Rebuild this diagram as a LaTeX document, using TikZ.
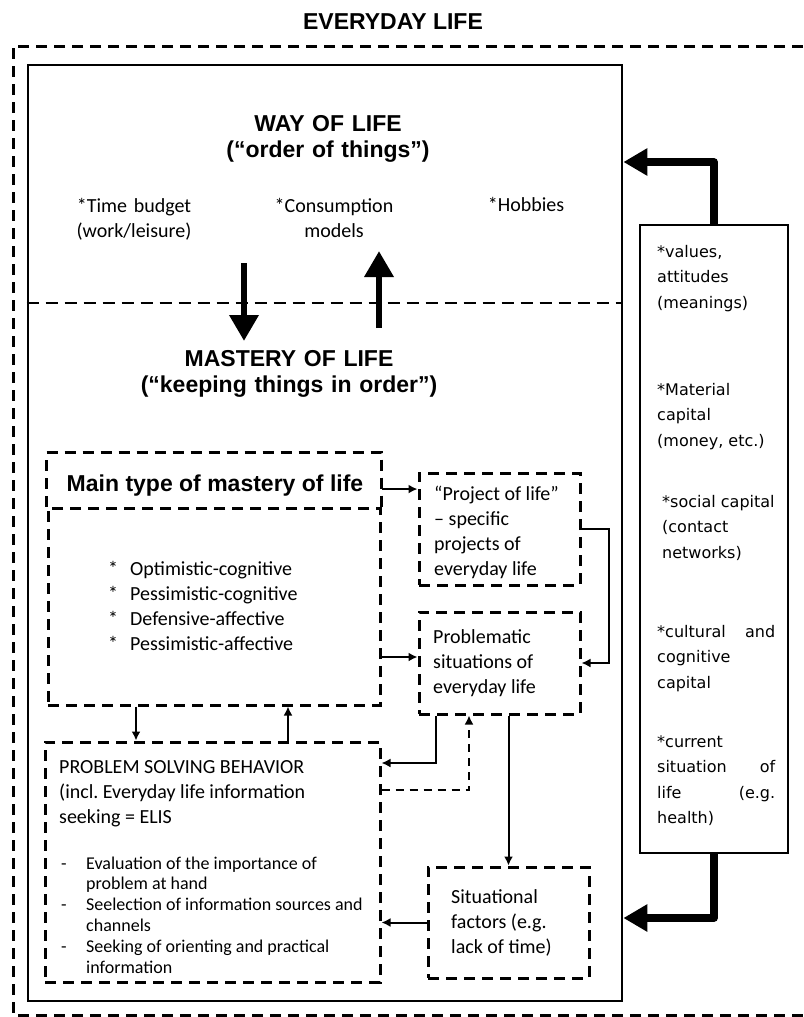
\documentclass[tikz,border=0pt]{standalone}
\usepackage{fontspec}
\setsansfont{Liberation Sans}
\newfontfamily\calib{Carlito}
\newfontfamily\verd{DejaVu Sans}
\usetikzlibrary{arrows.meta}
\frenchspacing

\begin{document}
\begin{tikzpicture}[x=1pt,y=-1pt,>={Latex[length=9pt,width=9pt]},
  solidbox/.style={rectangle,draw,line width=2.8pt,inner sep=0pt},
  dashbox/.style={rectangle,draw,line width=3pt,dash pattern=on 11pt off 7pt,inner sep=0pt},
  head/.style={font=\sffamily\bfseries\fontsize{23}{26.5}\selectfont,inner sep=0pt},
  txt/.style={font=\calib\fontsize{20}{25}\selectfont,inner sep=0pt},
  conn/.style={->,line width=2pt},
  dconn/.style={conn,dash pattern=on 8pt off 6pt},
  bigarrow/.style={-{Triangle[length=24pt,width=26pt]},line width=7.5pt,line join=round},
  fatarrow/.style={-{Triangle[length=26pt,width=28pt]},line width=6.5pt}]

\useasboundingbox (0,0) rectangle (803,1017);

% everyday life
\node[head,anchor=base] (title) at (393,29) {EVERYDAY LIFE};
\draw[line width=3pt,dash pattern=on 11pt off 7pt] (803,46) -| (13,1015) -- (803,1015);

\node[solidbox,minimum width=594pt,minimum height=936pt] (life) at (325,533) {};
\draw[line width=2.6pt,dash pattern=on 12pt off 7pt] (life.west |- 0,303) -- (life.east |- 0,303);

% way of life
\node[head,text width=300pt,align=center,anchor=base] (way) at (328,131) {WAY OF LIFE\\(“order of things”)};
\node[txt,text width=150pt,align=center,anchor=base] (budget) at (134,212) {*Time budget\\(work/leisure)};
\node[txt,text width=150pt,align=center,anchor=base] (consum) at (334,212) {*Consumption\\models};
\node[txt,anchor=base] (hobby) at (526,211) {*Hobbies};

\draw[fatarrow] (244,263) -- (244,341);
\draw[fatarrow] (379,328) -- (379,251);

% mastery of life
\node[head,text width=400pt,align=center,anchor=base] (mastery) at (289,366) {MASTERY OF LIFE\\(“keeping things in order”)};

\node[dashbox,minimum width=332pt,minimum height=197pt] (types) at (214,606.5) {};
\node[head,anchor=base] (maint) at (215,491) {Main type of mastery of life};
\draw[dashbox] (types.north west) -- ++(0,-54) -| (types.north east);
\node[txt,anchor=base west] (typelist) at (108,575) {\begin{tabular}[t]{@{}p{22pt}@{}l@{}}
{*}&Optimistic-cognitive\\
{*}&Pessimistic-cognitive\\
{*}&Defensive-affective\\
{*}&Pessimistic-affective
\end{tabular}};

\node[dashbox,minimum width=161pt,minimum height=112pt] (proj) at (499.5,529) {};
\node[txt,anchor=base west,text width=140pt,align=flush left] (proj_t) at (434,500) {“Project of life”\\– specific\\projects of\\everyday life};

\node[dashbox,minimum width=161pt,minimum height=102pt] (probl) at (499.5,663) {};
\node[txt,anchor=base west,text width=140pt,align=flush left] (probl_t) at (433,643) {Problematic\\situations of\\everyday life};

\node[dashbox,minimum width=335pt,minimum height=240pt] (psb) at (212.5,862) {};
\node[txt,anchor=base west,text width=310pt,align=flush left] (psb_t) at (59,773) {PROBLEM SOLVING BEHAVIOR\\(incl. Everyday life information\\seeking = ELIS};
\node[txt,font=\calib\fontsize{18}{20.8}\selectfont,anchor=base west] (psb_l) at (61,869) {\begin{tabular}[t]{@{}p{25pt}@{}l@{}}
-&Evaluation of the importance of\\
&problem at hand\\
-&Seelection of information sources and\\
&channels\\
-&Seeking of orienting and practical\\
&information
\end{tabular}};

\node[dashbox,minimum width=161pt,minimum height=111pt] (situ) at (508.5,922.5) {};
\node[txt,anchor=base west,text width=130pt,align=flush left] (situ_t) at (451,903) {Situational\\factors (e.g.\\lack of time)};

% resources
\node[solidbox,line width=2.6pt,minimum width=148pt,minimum height=628pt] (values) at (714,539) {};
\node[font=\verd\fontsize{16}{25.5}\selectfont,inner sep=0pt,anchor=base west,text width=118pt,align=flush left] (values_t) at (657,257) {*values,\\
attitudes\\
(meanings)\\[61.5pt]
*Material\\
capital\\
(money, etc.)\\[35.5pt]
\hspace*{5pt}*social capital\\
\hspace*{5pt}(contact\\
\hspace*{5pt}networks)\\[53.5pt]
*cultural\hfill and\\
cognitive\\
capital\\[33.5pt]
*current\\
situation\hfill of\\
life\hfill (e.g.\\
health)};

% connectors
\coordinate (m_out) at ([yshift=-4pt]maint.east);
\draw[conn] (m_out -| types.east) -- (m_out -| proj.west);
\draw[conn] ([yshift=6pt]probl.west -| types.east) -- ([yshift=6pt]probl.west);
\draw[conn] (proj.east) -- ++(27,0) |- (probl.east);
\draw[conn] ([xshift=-78pt]types.south) -- ([xshift=-78pt]types.south |- psb.north);
\draw[conn] ([xshift=74pt]types.south |- psb.north) -- ([xshift=74pt]types.south);
\draw[conn] ([xshift=-63.5pt]probl.south) |- ([yshift=99pt]psb.east);
\draw[dconn] ([yshift=72pt]psb.east) -| ([xshift=-30.5pt]probl.south);
\draw[conn] (probl.south -| situ.north) -- (situ.north);
\draw[conn] (situ.west) -- (situ.west -| psb.east);

\draw[bigarrow] (values.north) |- ([yshift=371pt]life.east);
\draw[bigarrow] (values.south) |- ([yshift=-385pt]life.east);

\end{tikzpicture}
\end{document}
